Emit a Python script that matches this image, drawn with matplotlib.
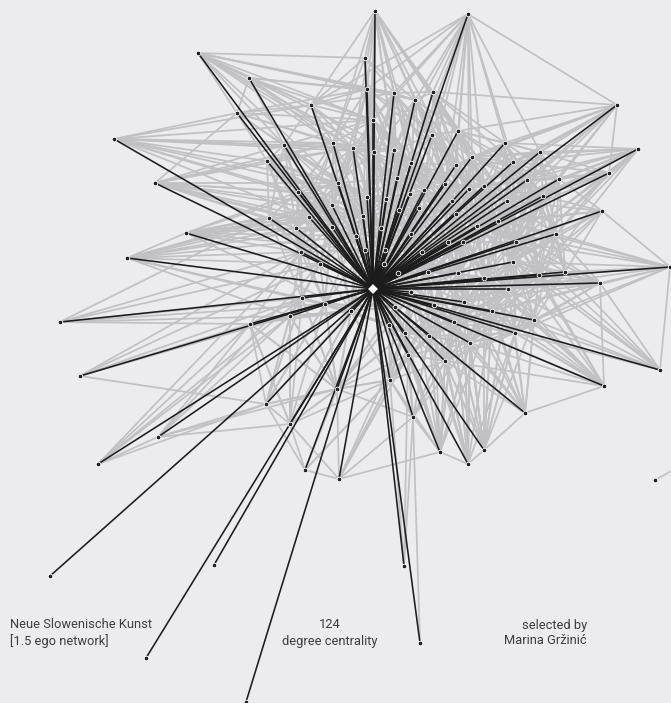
import matplotlib
matplotlib.use('Agg')
import matplotlib.pyplot as plt
from matplotlib.collections import LineCollection

# canvas in pixels, y grows downwards like the source picture
W, H = 671, 703
bg_color = '#ececee'
tie_color = '#1c1c1c'
mesh_color = '#c1c1c4'

ego = (373, 289)

# alter positions
node_x = [375, 468, 198, 617, 114, 638, 155, 670, 127, 60,
          80, 98, 50, 146, 214, 246, 420, 404, 604, 660,
          655, 186, 158, 609, 602, 600, 525, 249, 237, 311,
          365, 367, 394, 415, 433, 458, 432, 472, 456, 373,
          374, 333, 353, 394, 397, 411, 424, 445, 484, 469,
          284, 267, 338, 367, 298, 386, 332, 363, 381, 356,
          365, 385, 384, 398, 309, 269, 296, 332, 301, 320,
          505, 540, 513, 559, 527, 410, 507, 543, 452, 419,
          399, 456, 498, 477, 411, 556, 516, 463, 448, 422,
          513, 428, 458, 484, 539, 565, 508, 411, 464, 492,
          534, 454, 515, 470, 429, 445, 405, 395, 434, 408,
          390, 413, 440, 484, 468, 339, 337, 351, 389, 250,
          290, 325, 302, 266, 290, 305, 722]
node_y = [11, 14, 53, 105, 139, 149, 183, 267, 258, 322,
          376, 464, 576, 658, 565, 702, 643, 566, 386, 370,
          480, 233, 437, 173, 211, 283, 413, 78, 113, 105,
          58, 89, 93, 100, 92, 131, 135, 157, 165, 120,
          152, 143, 148, 150, 178, 163, 190, 184, 186, 189,
          145, 161, 183, 197, 192, 199, 205, 216, 228, 236,
          250, 250, 264, 273, 217, 218, 228, 227, 252, 264,
          143, 152, 162, 179, 180, 194, 201, 196, 201, 208,
          210, 214, 221, 226, 234, 234, 242, 242, 242, 252,
          262, 272, 273, 278, 275, 272, 289, 292, 302, 311,
          320, 322, 333, 343, 336, 361, 333, 307, 305, 355,
          380, 417, 452, 450, 464, 479, 389, 311, 325, 324,
          316, 304, 298, 404, 424, 470, 443]

# nodes without a direct tie to the ego
not_tied = [20, 126]

# ties among the alters (grey mesh): outer fans and near neighbours
mesh = {
    0: [29, 30, 31, 32, 33, 34, 35, 36, 39, 40, 43, 45, 37, 41],
    1: [3, 31, 32, 33, 34, 35, 36, 37, 38, 45, 43, 70, 71, 39, 29],
    2: [27, 28, 29, 31, 32, 41, 50, 39, 33, 42],
    3: [70, 71, 72, 73, 74, 23, 35, 37, 34, 76, 48],
    4: [28, 50, 51, 41, 42, 29, 54, 52],
    5: [71, 72, 73, 74, 77, 76, 70, 48, 37, 23, 85, 82],
    6: [51, 54, 65, 50, 52, 64, 28, 56, 66],
    7: [95, 94, 90, 85, 25, 86, 93, 96, 24, 100],
    8: [65, 66, 68, 69, 122, 64, 21, 120],
    9: [119, 120, 122, 68, 121, 69, 65],
    10: [119, 120, 122, 68, 69, 123],
    11: [22, 119, 120, 68, 123, 122],
    16: [111],
    17: [111, 110, 109],
    18: [26, 100, 102, 99, 96, 94, 90, 93, 86, 25],
    19: [25, 95, 94, 100, 90, 7],
    20: [126],
    21: [65, 66, 64, 67, 54, 68, 56],
    22: [123, 119, 120, 124, 69, 116],
    23: [73, 74, 77, 71, 72, 85, 76],
    24: [77, 85, 73, 86, 90, 82, 95],
    25: [94, 95, 90, 86, 85, 100, 96, 93],
    26: [113, 100, 102, 103, 99, 101, 105, 96, 98],
    27: [29, 28, 50, 41, 31, 39, 42, 32],
    28: [29, 50, 41, 42, 39, 51, 52, 31],
    29: [31, 39, 41, 42, 32, 30, 40, 52, 50],
    30: [31, 39, 32, 33, 40, 41],
    31: [32, 33, 39, 40, 43, 41, 42, 45, 52],
    32: [33, 34, 39, 43, 40, 36, 45, 44, 53],
    33: [34, 36, 35, 43, 45, 40, 38, 46],
    34: [36, 35, 37, 45, 38, 70, 47],
    35: [36, 37, 38, 70, 72, 47, 48, 49, 78],
    36: [38, 45, 43, 47, 46, 49, 78, 44],
    37: [38, 70, 72, 74, 48, 49, 76, 81],
    38: [47, 48, 49, 45, 78, 81, 82, 46],
    39: [40, 41, 42, 43, 52, 53, 44, 55],
    40: [41, 42, 43, 52, 53, 55, 57, 44, 75],
    41: [42, 50, 51, 52, 54, 56, 53],
    42: [52, 53, 56, 57, 54, 59, 43],
    43: [44, 45, 53, 55, 75, 46, 79, 80],
    44: [45, 46, 55, 75, 79, 80, 57, 58, 84],
    45: [46, 47, 75, 79, 78, 81, 84],
    46: [47, 78, 79, 81, 84, 88, 89, 87],
    47: [48, 49, 78, 81, 83, 87, 88],
    48: [49, 72, 74, 76, 82, 83, 81, 86],
    49: [78, 81, 82, 83, 87, 76],
    50: [51, 52, 54, 56, 64, 65, 41],
    51: [54, 64, 65, 66, 56, 52],
    52: [53, 54, 56, 57, 59, 64, 67, 55],
    53: [55, 57, 58, 59, 60, 80, 61],
    54: [56, 64, 65, 66, 67, 68],
    55: [57, 58, 75, 80, 79, 61, 84],
    56: [57, 59, 64, 67, 66, 68, 69],
    57: [58, 59, 60, 61, 67, 80, 62],
    58: [59, 60, 61, 62, 84, 80, 89, 63],
    59: [60, 61, 67, 69, 62, 117],
    60: [61, 62, 63, 69, 117, 121],
    61: [62, 63, 84, 89, 91, 97],
    62: [63, 91, 97, 107, 117, 118],
    63: [91, 97, 107, 89, 92, 108],
    64: [65, 66, 67, 68, 69],
    65: [66, 68, 122, 69],
    66: [67, 68, 69, 122, 121],
    67: [68, 69, 121, 117, 59],
    68: [69, 122, 121, 120, 119],
    69: [121, 122, 117, 120, 116],
    70: [71, 72, 74, 73, 76],
    71: [72, 73, 74, 77, 76],
    72: [73, 74, 76, 77, 82, 86],
    73: [74, 77, 85, 76, 86],
    74: [76, 77, 82, 85, 86, 90],
    75: [79, 80, 84, 81, 89, 88],
    76: [77, 82, 83, 86, 85, 90, 87],
    77: [85, 86, 90, 82, 94],
    78: [81, 83, 87, 88, 82, 84],
    79: [80, 81, 84, 88, 89, 91],
    80: [84, 89, 61, 91],
    81: [82, 83, 87, 88, 92, 89],
    82: [83, 86, 87, 90, 93, 92, 85],
    83: [86, 87, 92, 93, 88, 96],
    84: [88, 89, 91, 92, 97, 63],
    85: [86, 90, 94, 95, 93],
    86: [87, 90, 93, 94, 96, 92],
    87: [88, 92, 93, 91, 96, 98],
    88: [89, 91, 92, 98, 97],
    89: [91, 97, 92, 107, 108],
    90: [93, 94, 95, 96, 99, 100],
    91: [92, 97, 107, 108, 98, 101],
    92: [93, 98, 101, 108, 96, 99],
    93: [96, 98, 99, 94, 101, 102],
    94: [95, 96, 100, 99, 102],
    95: [96, 100, 102],
    96: [98, 99, 100, 102, 103, 101],
    97: [107, 108, 104, 106, 118, 101],
    98: [99, 101, 103, 108, 104, 105],
    99: [100, 102, 103, 101, 105],
    100: [102, 103],
    101: [103, 104, 105, 108, 109, 106],
    102: [103, 105],
    103: [105, 104, 109],
    104: [105, 106, 109, 108, 110, 118],
    105: [109, 110, 111],
    106: [107, 109, 110, 118, 116],
    107: [108, 118, 117, 106],
    108: [104, 106],
    109: [110, 111, 116],
    110: [111, 116, 118],
    111: [110, 109, 104, 105, 116],
    112: [104, 105, 109, 111, 101, 103, 114, 115],
    113: [102, 103, 105, 101, 99, 114],
    114: [103, 105, 101, 104],
    115: [116, 124, 125, 110, 109, 111],
    116: [117, 118, 121, 119, 120, 110],
    117: [118, 121, 122, 116, 120],
    118: [121],
    119: [120, 122, 121],
    120: [121, 122],
    121: [122],
    123: [119, 120, 122, 116, 121],
    124: [123, 116, 119, 120, 117],
    125: [124, 116, 123, 110],
}

# longer ties across the core that thicken the grey mass
mesh_far = {
    0: [44, 46, 53, 38, 42],
    1: [47, 49, 48, 72, 46],
    2: [40, 43, 52, 30],
    3: [77, 82, 49, 38],
    4: [56, 64, 39, 40, 53],
    5: [86, 90, 83, 94],
    6: [41, 42, 53, 57, 59, 67],
    7: [99, 102, 82, 83],
    8: [56, 59, 117, 121, 67],
    18: [98, 101, 103, 105, 92],
    19: [102, 99, 96, 86],
    21: [52, 53, 57, 59, 60, 117],
    23: [82, 86, 90, 48],
    24: [94, 96, 76, 83],
    25: [99, 102, 98, 82],
    26: [104, 108, 92, 93],
    31: [48, 37, 46, 53, 57, 75],
    32: [47, 49, 78, 46, 55, 57],
    33: [48, 49, 81, 75, 55, 78],
    34: [48, 72, 49, 81, 76],
    35: [74, 76, 81, 82, 83, 71],
    36: [81, 82, 83, 75, 79, 87],
    37: [82, 83, 86, 77, 71, 73],
    38: [83, 86, 87, 76, 72, 88],
    39: [45, 46, 47, 57, 58, 56, 75],
    40: [46, 47, 58, 59, 79, 80, 84],
    41: [57, 59, 64, 66, 67, 43, 44],
    42: [44, 55, 58, 60, 64, 67, 75],
    43: [47, 57, 58, 78, 84, 88, 81],
    44: [47, 61, 78, 81, 88, 89, 62],
    45: [48, 49, 80, 83, 88, 87, 55],
    46: [82, 83, 91, 92, 80, 55],
    47: [76, 82, 84, 89, 92, 86],
    48: [85, 87, 90, 93, 77, 92],
    49: [86, 88, 92, 93, 90],
    50: [53, 57, 59, 66, 67, 42, 39],
    51: [53, 57, 67, 68, 59, 41, 42],
    52: [58, 60, 61, 66, 68, 69, 44, 80],
    53: [62, 63, 67, 75, 79, 84, 44],
    54: [57, 59, 60, 69, 52, 41],
    55: [62, 63, 78, 81, 88, 89, 91],
    56: [58, 60, 61, 62, 117, 121],
    57: [63, 84, 89, 69, 117, 75, 79],
    58: [63, 91, 97, 117, 88, 79],
    59: [63, 66, 68, 121, 107, 97],
    60: [67, 68, 97, 107, 84],
    61: [79, 88, 92, 107, 108, 80],
    62: [84, 89, 92, 108, 117, 60],
    63: [84, 88, 101, 104, 98],
    70: [76, 77, 82, 48, 83, 86],
    71: [82, 85, 86, 90, 48],
    72: [83, 85, 90, 87, 94],
    73: [82, 90, 94, 95, 86],
    74: [83, 87, 93, 94, 95],
    75: [78, 88, 91, 92, 62, 61],
    76: [88, 92, 93, 94, 96],
    77: [93, 95, 96, 86],
    78: [89, 91, 92, 93, 86],
    79: [87, 92, 97, 63, 62],
    80: [88, 97, 62, 63, 107],
    81: [86, 91, 93, 98, 96],
    82: [94, 96, 98, 99, 88],
    83: [90, 94, 98, 99, 91],
    84: [98, 101, 107, 108, 62],
    85: [96, 99, 100, 102],
    86: [95, 98, 99, 100, 102],
    87: [97, 99, 101, 102, 108],
    88: [101, 108, 104, 96],
    89: [98, 101, 104, 106],
    90: [98, 101, 102, 103],
    91: [104, 106, 118, 105],
    92: [102, 103, 104, 105, 97],
    93: [100, 103, 105, 108],
    94: [98, 103, 101],
    95: [99, 103, 98],
    96: [104, 105, 108, 113],
    97: [103, 105, 109, 110, 117],
    98: [102, 109, 113, 114, 106],
    99: [104, 106, 113, 112],
    100: [101, 105, 113, 26],
    101: [111, 112, 113, 114],
    102: [104, 101, 114, 113],
    103: [106, 111, 112, 114, 113],
    104: [111, 112, 114],
    105: [106, 112, 113, 114],
    106: [111, 112, 115, 116, 117],
    107: [110, 109, 116, 117, 121],
    108: [105, 109, 110, 103],
    109: [112, 115, 118],
    110: [115, 124, 125, 117, 112],
    112: [97, 107, 108, 106],
    113: [93, 96, 98, 108],
    114: [98, 99, 108, 97],
    116: [124, 125, 122, 123, 107],
    117: [119, 120, 123, 124, 110, 106],
    118: [116, 117, 110, 109, 122],
    119: [121, 116, 117, 124],
    120: [116, 117, 123, 124],
    121: [116, 118, 107, 124, 123],
    122: [116, 117, 118, 123, 124],
}

left_label = ['Neue Slowenische Kunst', '[1.5 ego network]']
mid_label = ['124', 'degree centrality']
right_label = ['selected by', 'Marina Gržinić']

plt.rcParams['font.family'] = ['Roboto', 'DejaVu Sans']

fig = plt.figure(figsize=(W / 100, H / 100), dpi=100)
fig.patch.set_facecolor(bg_color)
ax = fig.add_axes([0, 0, 1, 1])
ax.set_facecolor(bg_color)
ax.set_xlim(0, W)
ax.set_ylim(H, 0)
ax.axis('off')

# grey mesh first
segs = []
for table in (mesh, mesh_far):
    for a, others in table.items():
        for b in others:
            segs.append([(node_x[a], node_y[a]), (node_x[b], node_y[b])])
ax.add_collection(LineCollection(segs, colors=mesh_color, linewidths=1.25, zorder=1))

# ego ties on top
ties = []
for i in range(len(node_x)):
    if i in not_tied:
        continue
    ties.append([ego, (node_x[i], node_y[i])])
ax.add_collection(LineCollection(ties, colors=tie_color, linewidths=1.15, zorder=2))

ax.scatter(node_x, node_y, s=11, c='#1f1f1f', edgecolors='white', linewidths=0.6, zorder=3)
ax.plot([ego[0]], [ego[1]], marker='D', markersize=6, mfc='white', mec='#1c1c1c', mew=1.1, zorder=4)

txt = dict(fontsize=9.3, color='#3d3d3d', va='center')
for k, line in enumerate(left_label):
    ax.text(10, 625 + 16 * k, line, ha='left', **txt)
for k, line in enumerate(mid_label):
    ax.text(330, 625 + 16 * k, line, ha='center', **txt)
for k, line in enumerate(right_label):
    ax.text(587, 625 + 16 * k, line, ha='right', **txt)

fig.savefig('out.png', dpi=100, facecolor=bg_color)
